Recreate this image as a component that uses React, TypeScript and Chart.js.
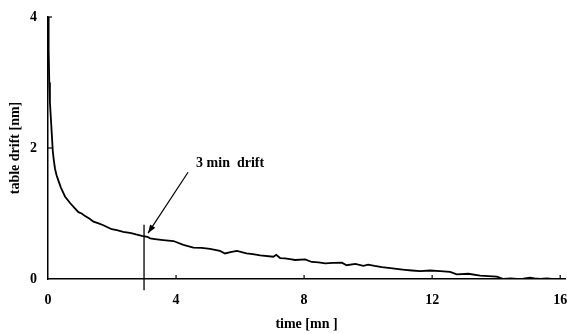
import React, { useEffect, useRef } from "react";
import { Chart, registerables } from "chart.js";

Chart.register(...registerables);

const timeMin: number[] = [
  0, 0.02, 0.04, 0.06, 0.09, 0.12, 0.15, 0.18, 0.22, 0.27, 0.32, 0.4, 0.53, 0.69, 0.82, 0.95, 1.05,
  1.16, 1.3, 1.42, 1.58, 1.73, 1.86, 1.99, 2.15, 2.35, 2.6, 2.75, 2.93, 3.1, 3.19, 3.34, 3.6, 3.92,
  4.23, 4.54, 4.8, 5.06, 5.37, 5.53, 5.7, 5.9, 6.2, 6.4, 6.63, 7.04, 7.13, 7.25, 7.4, 7.56, 7.72, 8.03,
  8.24, 8.45, 8.66, 8.9, 9.18, 9.33, 9.6, 9.85, 10.0, 10.2, 10.43, 10.7, 10.95, 11.15, 11.37, 11.63,
  11.94, 12.25, 12.56, 12.77, 13.13, 13.5, 13.75, 14.02, 14.23, 14.45, 14.65, 14.85, 15.06, 15.2,
  15.38, 15.58, 15.75, 15.9, 16.05, 16.15,
];
const driftNm: number[] = [
  4.0, 3.5, 3.0, 2.7, 2.45, 2.2, 1.95, 1.82, 1.68, 1.58, 1.51, 1.4, 1.26, 1.16, 1.09, 1.02, 1.0,
  0.96, 0.92, 0.875, 0.85, 0.82, 0.79, 0.76, 0.745, 0.72, 0.7, 0.68, 0.66, 0.645, 0.62, 0.61, 0.595, 0.58,
  0.52, 0.48, 0.475, 0.46, 0.43, 0.39, 0.41, 0.43, 0.39, 0.38, 0.36, 0.34, 0.37, 0.32, 0.315, 0.305, 0.29, 0.3,
  0.26, 0.255, 0.24, 0.245, 0.25, 0.21, 0.23, 0.2, 0.22, 0.2, 0.18, 0.165, 0.15, 0.14, 0.13, 0.12,
  0.13, 0.12, 0.11, 0.07, 0.08, 0.05, 0.045, 0.035, 0.0, 0.01, 0.0, 0.005, 0.02, 0.01,
  0.0, 0.01, 0.0, -0.01, 0.0, 0.0,
];
const xTickValues: number[] = [0, 4, 8, 12, 16];
const yTickValues: number[] = [0, 2, 4];
const markerTime = 3;
const markerRange: number[] = [-0.17, 0.83];
const annotationText = "3 min  drift";
const annotationPos = { x: 5.69, y: 1.76 };
const arrowTail = { x: 4.375, y: 1.63 };
const arrowHead = { x: 3.125, y: 0.7 };

const FONT = "'Liberation Serif', 'Times New Roman', serif";

export default function App() {
  const ref = useRef<HTMLCanvasElement | null>(null);
  useEffect(() => {
    document.body.style.margin = "0";
    const canvas = ref.current;
    if (!canvas) return;

    const extras = {
      id: "extras",
      afterDraw(chart: any) {
        const ctx = chart.ctx;
        const xs = chart.scales.x;
        const ys = chart.scales.y;
        const area = chart.chartArea;
        ctx.save();
        ctx.strokeStyle = "#000";
        ctx.lineWidth = 1.2;
        xTickValues.forEach((v) => {
          if (v === 0) return;
          const px = xs.getPixelForValue(v);
          ctx.beginPath();
          ctx.moveTo(px, area.bottom);
          ctx.lineTo(px, area.bottom - 4);
          ctx.stroke();
        });
        yTickValues.forEach((v) => {
          if (v === 0) return;
          const py = ys.getPixelForValue(v);
          ctx.beginPath();
          ctx.moveTo(area.left, py);
          ctx.lineTo(area.left + 4, py);
          ctx.stroke();
        });
        ctx.fillStyle = "#000";
        ctx.font = `bold 14px ${FONT}`;
        ctx.textAlign = "center";
        ctx.textBaseline = "middle";
        ctx.fillText(annotationText, xs.getPixelForValue(annotationPos.x), ys.getPixelForValue(annotationPos.y));
        const tx = xs.getPixelForValue(arrowTail.x);
        const ty = ys.getPixelForValue(arrowTail.y);
        const hx = xs.getPixelForValue(arrowHead.x);
        const hy = ys.getPixelForValue(arrowHead.y);
        ctx.lineWidth = 1.2;
        ctx.beginPath();
        ctx.moveTo(tx, ty);
        ctx.lineTo(hx, hy);
        ctx.stroke();
        const ang = Math.atan2(hy - ty, hx - tx);
        const len = 9;
        ctx.beginPath();
        ctx.moveTo(hx, hy);
        ctx.lineTo(hx - len * Math.cos(ang - 0.35), hy - len * Math.sin(ang - 0.35));
        ctx.lineTo(hx - len * Math.cos(ang + 0.35), hy - len * Math.sin(ang + 0.35));
        ctx.closePath();
        ctx.fill();
        ctx.restore();
      },
    };

    const chart = new Chart(canvas, {
      type: "line",
      data: {
        datasets: [
          {
            data: timeMin.map((t, i) => ({ x: t, y: driftNm[i] })),
            borderColor: "#000",
            borderWidth: 1.8,
            pointRadius: 0,
            tension: 0,
          },
          {
            data: markerRange.map((v) => ({ x: markerTime, y: v })),
            borderColor: "#000",
            borderWidth: 1.3,
            pointRadius: 0,
            clip: false as any,
          },
        ],
      },
      plugins: [extras],
      options: {
        animation: false,
        responsive: false,
        maintainAspectRatio: false,
        layout: { padding: { top: 17, right: 2, left: 0, bottom: 0 } },
        plugins: { legend: { display: false }, tooltip: { enabled: false } },
        scales: {
          x: {
            type: "linear",
            min: 0,
            max: 16.15,
            afterFit: (s: any) => {
              s.height = 55;
              s.paddingLeft = 0;
              s.paddingRight = 0;
            },
            afterBuildTicks: (s: any) => {
              s.ticks = xTickValues.map((v) => ({ value: v }));
            },
            ticks: {
              stepSize: 4,
              includeBounds: false,
              color: "#000",
              padding: 13,
              maxRotation: 0,
              font: { family: FONT, size: 14, weight: "bold" },
            },
            grid: { display: true, drawOnChartArea: false, drawTicks: false },
            border: { display: true, color: "#000", width: 1.5 },
            title: {
              display: true,
              text: "time [mn ]",
              color: "#000",
              font: { family: FONT, size: 14, weight: "bold" },
              padding: { top: 0, bottom: 1 },
            },
          },
          y: {
            type: "linear",
            min: 0,
            max: 4,
            afterFit: (s: any) => {
              s.width = 48;
              s.paddingTop = 0;
              s.paddingBottom = 0;
            },
            afterBuildTicks: (s: any) => {
              s.ticks = yTickValues.map((v) => ({ value: v }));
            },
            ticks: {
              stepSize: 2,
              color: "#000",
              padding: 11,
              font: { family: FONT, size: 14, weight: "bold" },
            },
            grid: { display: true, drawOnChartArea: false, drawTicks: false },
            border: { display: true, color: "#000", width: 1.5 },
            title: {
              display: true,
              text: "table drift [nm]",
              color: "#000",
              font: { family: FONT, size: 14, weight: "bold" },
              padding: { top: 7, bottom: 0 },
            },
          },
        },
      } as any,
    });
    return () => chart.destroy();
  }, []);
  return <canvas ref={ref} width={567} height={334} style={{ display: "block", width: 567, height: 334 }} />;
}
